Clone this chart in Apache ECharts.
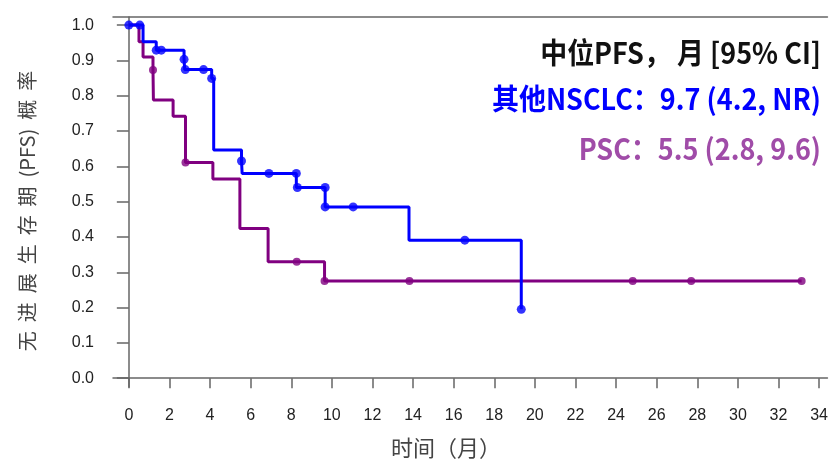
<!DOCTYPE html>
<html>
<head>
<meta charset="utf-8">
<script src="https://cdn.jsdelivr.net/npm/echarts@6/dist/echarts.min.js"></script>
<style>
html,body{margin:0;padding:0;background:#fff;}
#chart{width:831px;height:461px;}
</style>
</head>
<body>
<div id="chart"></div>
<script>
// ---- data ----
var xTicks = [0,2,4,6,8,10,12,14,16,18,20,22,24,26,28,30,32,34];
var yTicks = [0,0.1,0.2,0.3,0.4,0.5,0.6,0.7,0.8,0.9,1.0];

var otherTimes = [0, 0.7, 1.35, 2.72, 2.75, 4.08, 4.18, 5.55, 5.58, 8.25, 9.67, 13.8, 19.33];
var otherSurv  = [1.0, 0.953, 0.929, 0.903, 0.874, 0.849, 0.646, 0.615, 0.58, 0.54, 0.485, 0.391, 0.195];
var otherCensorTimes = [0, 0.54, 1.35, 1.6, 2.72, 2.78, 3.68, 4.08, 5.55, 6.9, 8.25, 8.3, 9.67, 9.67, 11.05, 16.55, 19.33];
var otherCensorSurv  = [1.0, 1.0, 0.929, 0.929, 0.903, 0.874, 0.874, 0.849, 0.615, 0.58, 0.58, 0.54, 0.54, 0.485, 0.485, 0.391, 0.195];

var pscTimes = [0, 0.5, 0.7, 1.19, 1.21, 2.18, 2.79, 4.14, 5.47, 6.86, 9.64, 33.14];
var pscSurv  = [1.0, 0.953, 0.91, 0.873, 0.788, 0.742, 0.611, 0.564, 0.424, 0.33, 0.275, 0.275];
var pscCensorTimes = [1.19, 2.79, 8.27, 9.64, 13.82, 24.82, 27.7, 33.14];
var pscCensorSurv  = [0.873, 0.611, 0.33, 0.275, 0.275, 0.275, 0.275, 0.275];

var legendLines = ['中位PFS， 月 [95% CI]', '其他NSCLC：9.7 (4.2, NR)', 'PSC：5.5 (2.8, 9.6)'];
var yTitle = '无  进  展  生  存  期  (PFS)  概  率';
var xTitle = '时间（月）';

// ---- build ----
function zip(a, b){ return a.map(function(v,i){ return [v, b[i]]; }); }
var BLUE = '#0000ff', PURPLE = '#800080', PURPLE_TXT = '#a04ca8';
var axisCol = '#666';
var cjk = "'Noto Sans CJK SC',sans-serif";
var legendFont = "bold 29px 'Noto Sans CJK SC',sans-serif";
var tickFont = "'Liberation Sans',Arial,sans-serif";

var chart = echarts.init(document.getElementById('chart'), null, {renderer:'canvas'});
chart.setOption({
  animation:false,
  backgroundColor:'#fff',
  grid:{left:113, top:17, right:0, bottom:74, containLabel:false},
  xAxis:[{
    type:'value', min:-0.78, max:34.41, position:'bottom',
    axisLine:{show:true, lineStyle:{color:axisCol, width:1.5}},
    axisTick:{show:true, customValues:xTicks, length:10, lineStyle:{color:axisCol, width:1.5}},
    axisLabel:{show:true, customValues:xTicks, margin:21, fontSize:16, color:'#222', fontFamily:tickFont},
    splitLine:{show:false}
  },{
    type:'value', min:-0.78, max:34.41, position:'top',
    axisLine:{show:true, lineStyle:{color:axisCol, width:1.5}},
    axisTick:{show:false}, axisLabel:{show:false}, splitLine:{show:false}
  }],
  yAxis:{
    type:'value', min:-0.025, max:1.023,
    axisLine:{show:true, lineStyle:{color:axisCol, width:1.5}},
    axisTick:{show:true, customValues:yTicks, length:12, lineStyle:{color:axisCol, width:1.5}},
    axisLabel:{show:true, customValues:yTicks, margin:19, fontSize:16, color:'#222', fontFamily:tickFont,
      formatter:function(v){ return v.toFixed(1); }},
    splitLine:{show:false}
  },
  series:[
    {type:'line', step:'end', data:zip(pscTimes, pscSurv), showSymbol:false, lineStyle:{color:PURPLE, width:3}, z:2},
    {type:'scatter', data:zip(pscCensorTimes, pscCensorSurv), symbol:'circle', symbolSize:8, itemStyle:{color:PURPLE}, z:3},
    {type:'line', step:'end', data:zip(otherTimes, otherSurv), showSymbol:false, lineStyle:{color:BLUE, width:3}, z:4},
    {type:'scatter', data:zip(otherCensorTimes, otherCensorSurv), symbol:'circle', symbolSize:9, itemStyle:{color:BLUE}, z:5}
  ],
  graphic:[
    {type:'text', x:821, y:53, scaleX:0.93, style:{text:legendLines[0], fill:'#111', font:legendFont, textAlign:'right', textVerticalAlign:'middle'}},
    {type:'text', x:821, y:99, scaleX:0.93, style:{text:legendLines[1], fill:BLUE, font:legendFont, textAlign:'right', textVerticalAlign:'middle'}},
    {type:'text', x:821, y:149, scaleX:0.93, style:{text:legendLines[2], fill:PURPLE_TXT, font:legendFont, textAlign:'right', textVerticalAlign:'middle'}},
    {type:'text', x:446, y:448, style:{text:xTitle, fill:'#444', font:"22px " + cjk, textAlign:'center', textVerticalAlign:'middle'}},
    {type:'text', x:27, y:211, rotation:Math.PI/2, style:{text:yTitle, fill:'#444', font:"20px " + cjk, textAlign:'center', textVerticalAlign:'middle'}}
  ]
});
</script>
</body>
</html>
